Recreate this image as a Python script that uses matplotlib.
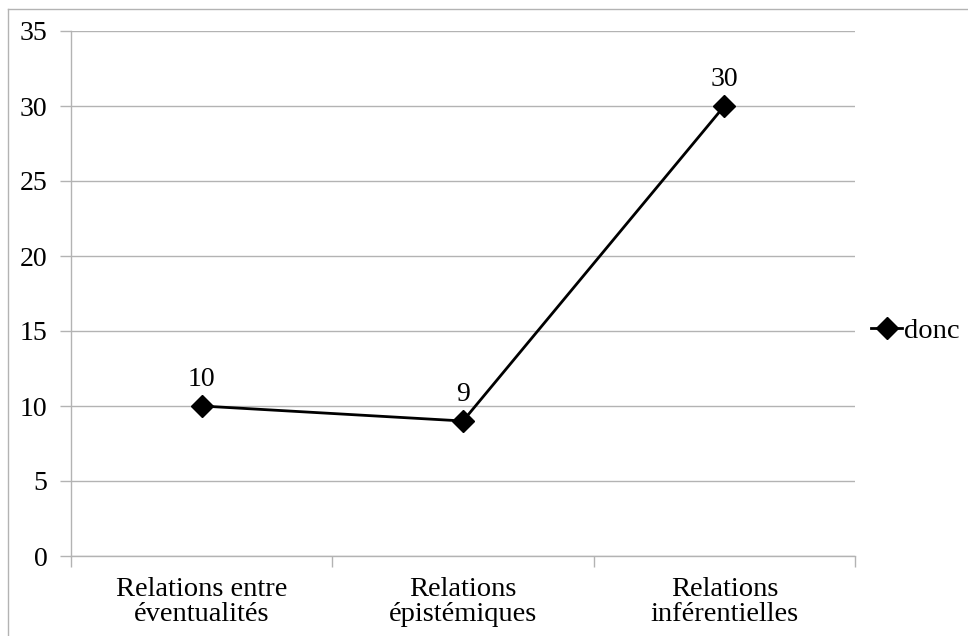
import matplotlib.pyplot as plt
from matplotlib.lines import Line2D

# data
categories = ['Relations entre\néventualités', 'Relations\népistémiques', 'Relations\ninférentielles']
donc = [10, 9, 30]
yticks = [0, 5, 10, 15, 20, 25, 30, 35]

plt.rcParams['font.family'] = ['Liberation Serif', 'DejaVu Serif']

W, H = 968, 636
fig = plt.figure(figsize=(W / 100, H / 100), dpi=100)
ax = fig.add_axes([71 / W, 1 - 556 / H, (855 - 71) / W, (556 - 31) / H])

x = list(range(len(categories)))
ax.plot(x, donc, color='black', lw=2, marker='D', ms=11, label='donc', zorder=3)
for xi, v in zip(x, donc):
    ax.annotate(str(v), (xi, v), xytext=(0, 10), textcoords='offset points',
                ha='center', va='bottom', fontsize=20)

ax.set_xlim(-0.5, len(categories) - 0.5)
ax.set_ylim(0, 35)
ax.set_yticks(yticks)
ax.set_yticklabels([str(t) for t in yticks], fontsize=20)
ax.yaxis.grid(True, color='#b3b3b3', lw=1)
ax.set_axisbelow(True)

# category labels between the boundary ticks
ax.set_xticks([i - 0.5 for i in range(len(categories) + 1)])
ax.set_xticklabels([])
ax.set_xticks(x, minor=True)
ax.set_xticklabels(categories, minor=True, fontsize=20.5, linespacing=1.0)
ax.tick_params(axis='x', which='minor', length=0, pad=15)
ax.tick_params(axis='x', which='major', length=8, color='#b3b3b3', width=1)
ax.tick_params(axis='y', length=8, color='#b3b3b3', width=1, pad=9)

for s in ['top', 'right']:
    ax.spines[s].set_visible(False)
for s in ['left', 'bottom']:
    ax.spines[s].set_color('#b3b3b3')
    ax.spines[s].set_linewidth(1)

fig.legend(*ax.get_legend_handles_labels(), loc='center left',
           bbox_to_anchor=(871 / W, 1 - 331 / H), bbox_transform=fig.transFigure,
           frameon=False, fontsize=20.5, handlelength=1.1, handletextpad=0.05,
           borderaxespad=0, borderpad=0)

# chart area border (left and top edges visible)
fig.add_artist(Line2D([8 / W, 8 / W], [0, 1 - 9 / H], color='#b3b3b3', lw=1))
fig.add_artist(Line2D([8 / W, 1], [1 - 9 / H, 1 - 9 / H], color='#b3b3b3', lw=1))

fig.savefig('out.png', dpi=100)
